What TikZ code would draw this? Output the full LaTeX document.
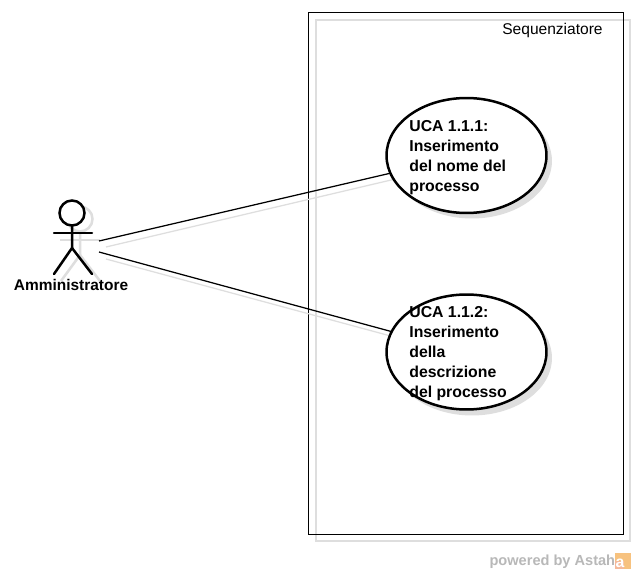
\documentclass[tikz,border=0pt]{standalone}
\usepackage{fontspec}
\setmainfont{Liberation Sans}
\usetikzlibrary{shapes.geometric, positioning}
\definecolor{shadowgray}{HTML}{DEDEDE}
\definecolor{logoorange}{HTML}{F7C27F}
\definecolor{logopeach}{HTML}{F5B99A}
\tikzset{
    usecase/.style={draw=black, line width=0.05cm, fill=white, ellipse, minimum width=3.2cm, minimum height=2.3cm},
    usecaseshadow/.style={fill=shadowgray, ellipse, minimum width=3.2cm, minimum height=2.3cm},
    usecaselabel/.style={anchor=north west, align=left, inner sep=0pt, font=\fontsize{9}{11.34}\selectfont\bfseries, text=black},
    actorline/.style={line width=0.05cm, line cap=round},
    actorshadow/.style={line width=0.05cm, draw=shadowgray}
}
\begin{document}
\begin{tikzpicture}[x=0.02cm, y=-0.02cm]
    \useasboundingbox (0,0) rectangle (636,574);
    \fill[white] (0,0) rectangle (636,574);

    % Draw system boundary
    \draw[shadowgray, line width=0.025cm] (316,20) rectangle (630,541);
    \draw[black, line width=0.02cm] (308,13) rectangle (623,534);
    \node[anchor=east, inner sep=0pt, font=\fontsize{8.85}{11}\selectfont] (sequenziatore) at (603,30) {Sequenziatore};

    % Draw actor shadow
    \draw[actorshadow] (80,219) circle (12.5);
    \draw[actorshadow] (60,240) -- (100,240);
    \draw[actorshadow] (80,232) -- (80,255) -- (61,281);
    \draw[actorshadow] (80,255) -- (100,281);

    % Draw actor
    \draw[actorline, fill=white] (72,213) circle (12.5);
    \draw[actorline] (54,233) -- (92,233);
    \draw[actorline] (72,225.5) -- (72,248) -- (54,274);
    \draw[actorline] (72,248) -- (92,274);
    \node[inner sep=0pt, font=\fontsize{8.8}{11}\selectfont\bfseries] (amministratore) at (71,285) {Amministratore};

    % Actor connection points
    \coordinate (actorone) at (99,241);
    \coordinate (actortwo) at (99,252);
    \coordinate (actoroneshadow) at (106,247);
    \coordinate (actortwoshadow) at (106,259);

    % Draw use cases
    \node[usecaseshadow] (ucaoneshadow) at (472,161) {};
    \node[usecaseshadow] (ucatwoshadow) at (472,358) {};
    \draw[shadowgray, line width=0.025cm] (actoroneshadow) -- (ucaoneshadow);
    \draw[shadowgray, line width=0.025cm] (actortwoshadow) -- (ucatwoshadow);
    \draw[black, line width=0.025cm] (actorone) -- (466.5,155.5) coordinate (ucaonecentre);
    \draw[black, line width=0.025cm] (actortwo) -- (466.5,352) coordinate (ucatwocentre);
    \node[usecase] (ucaone) at (ucaonecentre) {};
    \node[usecase] (ucatwo) at (ucatwocentre) {};

    % Add use case labels
    \node[usecaselabel] (ucaonetext) at (409,120) {UCA 1.1.1:\\Inserimento\\del nome del\\processo};
    \node[usecaselabel] (ucatwotext) at (409,306) {UCA 1.1.2:\\Inserimento\\della\\descrizione\\del processo};

    % Add watermark
    \node[anchor=east, inner sep=0pt, text=black!28, font=\fontsize{8.3}{10}\selectfont\bfseries] (powered) at (615.5,562) {powered by Astah};
    \fill[logoorange] (615,553) rectangle (631,569);
    \fill[logopeach] (615,561) rectangle (624,569);
    \node[inner sep=0pt, text=white, font=\fontsize{9}{11}\selectfont\bfseries] (logo) at (620,563) {a};
\end{tikzpicture}
\end{document}
